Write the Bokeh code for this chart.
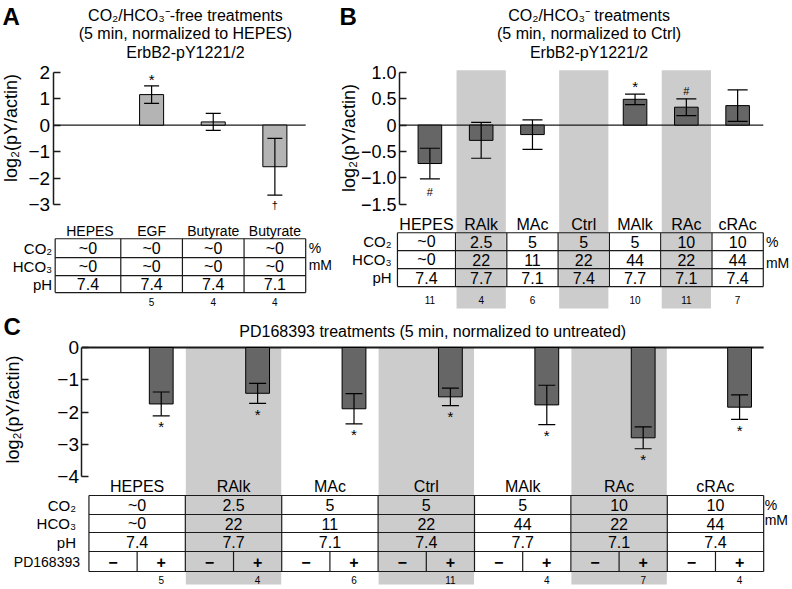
import math
from bokeh.plotting import figure
from bokeh.models import ColumnDataSource, Whisker, TeeHead, FixedTicker, Range1d
from bokeh.layouts import column, row
from bokeh.embed import file_html
from bokeh.resources import INLINE
from bokeh.core.properties import value

# ---------------- data ----------------
a_labels = ["HEPES", "EGF", "Butyrate", "Butyrate"]
a_values = [0.0, 1.15, 0.12, -1.57]
a_errors = [0.0, 0.33, 0.32, 1.07]
a_marks = ["", "*", "", "†"]
a_mark_side = ["", "above", "", "below"]
a_co2 = ["~0", "~0", "~0", "~0"]
a_hco3 = ["~0", "~0", "~0", "~0"]
a_ph = ["7.4", "7.4", "7.4", "7.1"]
a_n = ["", "5", "4", "4"]
a_ticks = [-3, -2, -1, 0, 1, 2]
a_tick_labels = ["−3", "−2", "−1", "0", "1", "2"]

b_labels = ["HEPES", "RAlk", "MAc", "Ctrl", "MAlk", "RAc", "cRAc"]
b_values = [-0.73, -0.29, -0.18, 0.0, 0.49, 0.34, 0.37]
b_errors = [0.29, 0.34, 0.28, 0.0, 0.10, 0.16, 0.30]
b_marks = ["#", "", "", "", "*", "#", ""]
b_mark_side = ["below", "", "", "", "above", "above", ""]
b_co2 = ["~0", "2.5", "5", "5", "5", "10", "10"]
b_hco3 = ["~0", "22", "11", "22", "44", "22", "44"]
b_ph = ["7.4", "7.7", "7.1", "7.4", "7.7", "7.1", "7.4"]
b_n = ["11", "4", "6", "", "10", "11", "7"]
b_shaded = [False, True, False, True, False, True, False]
b_ticks = [-1.5, -1.0, -0.5, 0.0, 0.5, 1.0]
b_tick_labels = ["−1.5", "−1.0", "−0.5", "0", "0.5", "1.0"]

c_labels = ["HEPES", "RAlk", "MAc", "Ctrl", "MAlk", "RAc", "cRAc"]
c_values = [-1.75, -1.42, -1.90, -1.53, -1.78, -2.80, -1.85]
c_errors = [0.37, 0.31, 0.47, 0.27, 0.61, 0.34, 0.38]
c_marks = ["*", "*", "*", "*", "*", "*", "*"]
c_co2 = ["~0", "2.5", "5", "5", "5", "10", "10"]
c_hco3 = ["~0", "22", "11", "22", "44", "22", "44"]
c_ph = ["7.4", "7.7", "7.1", "7.4", "7.7", "7.1", "7.4"]
c_pd = ["−", "+"]
c_n = ["5", "4", "6", "11", "4", "7", "4"]
c_shaded = [False, True, False, True, False, True, False]
c_ticks = [-4, -3, -2, -1, 0]
c_tick_labels = ["−4", "−3", "−2", "−1", "0"]

FONT = "Liberation Sans"
BOLD_FONT = "Liberation Sans"
BAND = "#cccccc"
LINE = "#1a1a1a"
TS = 16      # table text size
HS = 16      # header text size
RS = 15      # row-name size
US = 14      # unit size
TITLE = 16


# ---------------- helpers ----------------
def make_fig(w, h, xr, yr, axis_x):
    p = figure(width=w, height=h, x_range=Range1d(*xr), y_range=Range1d(*yr),
               output_backend="svg", toolbar_location=None,
               x_axis_location=None, y_axis_location="left",
               min_border_left=0, min_border_right=0,
               min_border_top=0, min_border_bottom=0)
    p.outline_line_color = None
    p.grid.visible = False
    p.background_fill_color = "white"
    p.border_fill_color = "white"
    p.yaxis[0].fixed_location = axis_x
    return p


def style_axis(p, ticks, labels, size):
    ax = p.yaxis[0]
    ax.ticker = FixedTicker(ticks=ticks, minor_ticks=[])
    ax.bounds = (min(ticks), max(ticks))
    ax.major_label_overrides = {t: l for t, l in zip(ticks, labels)}
    ax.major_tick_in = 7
    ax.major_tick_out = 0
    ax.minor_tick_in = 0
    ax.minor_tick_out = 0
    ax.axis_line_width = 1.5
    ax.axis_line_color = LINE
    ax.major_tick_line_width = 1.5
    ax.major_tick_line_color = LINE
    ax.major_label_text_font = FONT
    ax.major_label_text_font_size = f"{size}px"
    ax.major_label_text_color = "black"
    ax.major_label_standoff = 3


def seg(p, x0, y0, x1, y1, width=1.2, color=LINE):
    p.segment(x0=x0, y0=y0, x1=x1, y1=y1, line_color=color, line_width=width)


def txt(p, xs, ys, texts, size, align="center", baseline="middle", font=FONT,
        style="normal", angle=0.0):
    src = ColumnDataSource(dict(x=list(xs), y=list(ys), t=list(texts)))
    p.text(x="x", y="y", text="t", source=src, text_font=value(font),
           text_font_size=f"{size}px", text_align=align, text_baseline=baseline,
           text_font_style=style, text_color="black", angle=angle)


def bars(p, xs, vals, errs, width, color, cap):
    keep = [i for i, v in enumerate(vals) if v != 0]
    p.vbar(x=[xs[i] for i in keep], top=[vals[i] for i in keep], bottom=0, width=width,
           fill_color=color, line_color="black", line_width=1)
    ek = [i for i in keep if errs[i] > 0]
    src = ColumnDataSource(dict(x=[xs[i] for i in ek],
                                up=[vals[i] + errs[i] for i in ek],
                                lo=[vals[i] - errs[i] for i in ek]))
    p.add_layout(Whisker(source=src, base="x", upper="up", lower="lo", level="overlay",
                         line_color="black", line_width=1.2,
                         upper_head=TeeHead(size=cap, line_color="black", line_width=1.2),
                         lower_head=TeeHead(size=cap, line_color="black", line_width=1.2)))


def marks(p, xs, vals, errs, mk, sides, ppu, gap_above, gap_below, sizes):
    for i, m in enumerate(mk):
        if not m:
            continue
        if sides[i] == "above":
            y = vals[i] + errs[i] + gap_above / ppu
        else:
            y = vals[i] - errs[i] - gap_below / ppu
        txt(p, [xs[i]], [y], [m], sizes.get(m, 14))


def table(p, col_edges, row_edges, rows, col_centers, row_centers, size=TS):
    for y in row_edges:
        seg(p, col_edges[0], y, col_edges[-1], y)
    for x in col_edges:
        seg(p, x, row_edges[0], x, row_edges[-1])
    for r, cells in enumerate(rows):
        txt(p, col_centers, [row_centers[r]] * len(cells), cells, size)


mark_sizes = {"*": 15, "#": 11, "†": 11}
ROWNAMES = ["CO₂", "HCO₃", "pH"]
TOP_BOX = 310   # reference height covered by the upper row

# ---------------- panel A ----------------
AW, AH = 338, 309
def AX(px): return (px - 90) / 62
def AY(py): return (125 - py) / 26.6
pA = make_fig(AW, AH, (AX(0), AX(340)), (AY(TOP_BOX), AY(0)), AX(53))
style_axis(pA, a_ticks, a_tick_labels, 19)
ax_x = list(range(len(a_labels)))
seg(pA, AX(53), 0, 3.5, 0, width=1.2)
bars(pA, ax_x, a_values, a_errors, 0.39, "#b4b4b4", 15)
marks(pA, ax_x, a_values, a_errors, a_marks, a_mark_side, 26.6, 6, 10, mark_sizes)
txt(pA, [AX(186)] * 3, [AY(15), AY(33), AY(52)],
    ["CO₂/HCO₃⁻-free treatments", "(5 min, normalized to HEPES)", "ErbB2-pY1221/2"], TITLE)
txt(pA, [AX(2)], [AY(3)], ["A"], 24, align="left", baseline="top", font=BOLD_FONT, style="bold")
txt(pA, [AX(11)], [AY(128)], ["log₂(pY/actin)"], 18, angle=math.pi / 2)
a_cols = [AX(55), 0.5, 1.5, 2.5, 3.5]
a_rows = [AY(239), AY(258), AY(276), AY(293)]
a_cc = [(a_cols[i] + a_cols[i + 1]) / 2 for i in range(len(a_cols) - 1)]
a_rc = [(a_rows[i] + a_rows[i + 1]) / 2 for i in range(len(a_rows) - 1)]
table(pA, a_cols, a_rows, [a_co2, a_hco3, a_ph], a_cc, a_rc)
txt(pA, ax_x, [AY(231)] * 4, a_labels, 14)
txt(pA, ax_x, [AY(302)] * 4, a_n, 10)
txt(pA, [AX(52)] * 3, a_rc, ROWNAMES, RS, align="right")
txt(pA, [AX(310)], [a_rc[0]], ["%"], US, align="left")
txt(pA, [AX(310)], [AY(265)], ["mM"], US, align="left")

# ---------------- panel B ----------------
BW, BH = 452, 309
def BX(px): return (px - 433) / 52.2
def BY(py): return (125 - py) / 52.8
pB = make_fig(BW, BH, (BX(340), BX(800)), (BY(TOP_BOX), BY(0)), BX(402))
style_axis(pB, b_ticks, b_tick_labels, 18)
bx = list(range(len(b_labels)))
sb = [i for i, s in enumerate(b_shaded) if s]
pB.quad(left=[i - 0.48 for i in sb], right=[i + 0.48 for i in sb],
        bottom=BY(309), top=BY(70), fill_color=BAND, line_color=None)
seg(pB, BX(402), 0, 6.5, 0, width=1.2)
bars(pB, bx, b_values, b_errors, 0.46, "#666666", 20)
marks(pB, bx, b_values, b_errors, b_marks, b_mark_side, 52.8, 8, 13, mark_sizes)
txt(pB, [BX(595)] * 3, [BY(15), BY(33), BY(52)],
    ["CO₂/HCO₃⁻ treatments", "(5 min, normalized to Ctrl)", "ErbB2-pY1221/2"], TITLE)
txt(pB, [BX(341)], [BY(3)], ["B"], 24, align="left", baseline="top", font=BOLD_FONT, style="bold")
txt(pB, [BX(351)], [BY(138)], ["log₂(pY/actin)"], 18, angle=math.pi / 2)
b_cols = [BX(400)] + [i + 0.5 for i in range(len(b_labels))]
b_rows = [BY(233), BY(251), BY(269), BY(287)]
b_cc = [(b_cols[i] + b_cols[i + 1]) / 2 for i in range(len(b_cols) - 1)]
b_rc = [(b_rows[i] + b_rows[i + 1]) / 2 for i in range(len(b_rows) - 1)]
table(pB, b_cols, b_rows, [b_co2, b_hco3, b_ph], b_cc, b_rc)
txt(pB, b_cc, [BY(225)] * len(b_labels), b_labels, HS)
txt(pB, bx, [BY(300)] * len(b_labels), b_n, 10)
txt(pB, [BX(394)] * 3, b_rc, ROWNAMES, RS, align="right")
txt(pB, [BX(775)], [b_rc[0]], ["%"], US, align="left")
txt(pB, [BX(775)], [BY(263)], ["mM"], US, align="left")

# ---------------- panel C ----------------
CW, CH = 790, 278
def CX(px): return (px - 137.5) / 97
def CY(py): return (349 - py) / 32.25
pC = make_fig(CW, CH, (CX(0), CX(795)), (CY(589), CY(311)), CX(82))
style_axis(pC, c_ticks, c_tick_labels, 19)
cg = list(range(len(c_labels)))
sc = [i for i, s in enumerate(c_shaded) if s]
pC.quad(left=[i - 0.495 for i in sc], right=[i + 0.495 for i in sc],
        bottom=CY(586), top=0, fill_color=BAND, line_color=None)
seg(pC, CX(82), 0, 6.5, 0, width=2.2)
cx_plus = [g + 0.25 for g in cg]
bars(pC, cx_plus, c_values, c_errors, 0.247, "#666666", 17)
marks(pC, cx_plus, c_values, c_errors, c_marks, ["below"] * 7, 32.25, 8, 11, mark_sizes)
txt(pC, [CX(435)], [CY(333)], ["PD168393 treatments (5 min, normalized to untreated)"], TITLE)
txt(pC, [CX(3)], [CY(314)], ["C"], 24, align="left", baseline="top", font=BOLD_FONT, style="bold")
txt(pC, [CX(13)], [CY(411)], ["log₂(pY/actin)"], 18, angle=math.pi / 2)
c_cols = [g - 0.5 for g in cg] + [len(cg) - 0.5]
c_rows = [CY(497), CY(516), CY(534), CY(553), CY(573)]
c_rc = [(c_rows[i] + c_rows[i + 1]) / 2 for i in range(len(c_rows) - 1)]
table(pC, c_cols, c_rows, [c_co2, c_hco3, c_ph], cg, c_rc)
for g in cg:
    seg(pC, g, c_rows[3], g, c_rows[4])
txt(pC, [g - 0.25 for g in cg] + [g + 0.25 for g in cg], [c_rc[3]] * (2 * len(cg)),
    [c_pd[0]] * len(cg) + [c_pd[1]] * len(cg), TS, style="bold")
txt(pC, cg, [CY(488)] * len(cg), c_labels, HS)
txt(pC, cx_plus, [CY(581)] * len(cg), c_n, 10)
txt(pC, [CX(76)] * 3, c_rc[:3], ROWNAMES, RS, align="right")
txt(pC, [CX(80)], [c_rc[3]], ["PD168393"], 14, align="right")
txt(pC, [CX(769)], [c_rc[0]], ["%"], US, align="left")
txt(pC, [CX(769)], [CY(521)], ["mM"], US, align="left")

layout = column(row(pA, pB), pC)
open("out.html", "w").write(file_html(layout, INLINE))
